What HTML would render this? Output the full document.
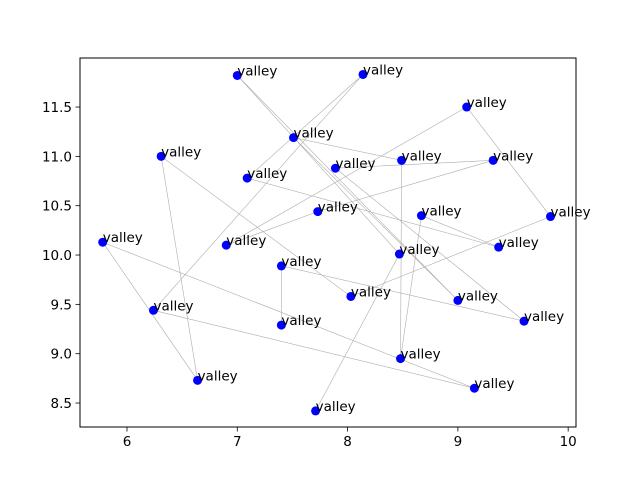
<!DOCTYPE html>
<html><head><meta charset="utf-8"><style>
html,body{margin:0;padding:0;background:#fff;}
svg text{font-family:"DejaVu Sans","Liberation Sans",sans-serif;}
</style></head><body>
<svg id="chart" width="640" height="480" viewBox="0 0 640 480" xmlns="http://www.w3.org/2000/svg">
<rect x="0" y="0" width="640" height="480" fill="#fff"/>
<g id="lines"></g>
<g id="points"></g>
<g id="labels"></g>
<rect x="80" y="58" width="496" height="369" fill="none" stroke="#000" stroke-width="1"/>
<g id="xaxis"></g>
<g id="yaxis"></g>
</svg>
<script>
const xValues = [7.40,7.40,9.60,7.89,9.32,7.73,6.90,9.08,9.84,8.03,6.31,6.64,5.78,9.15,6.24,8.14,7.09,9.37,8.67,8.48,8.49,7.51,9.00,7.00,8.47,7.71];
const yValues = [9.29,9.89,9.33,10.88,10.96,10.44,10.10,11.50,10.39,9.58,11.00,8.73,10.13,8.65,9.44,11.83,10.78,10.08,10.40,8.95,10.96,11.19,9.54,11.82,10.01,8.42];
const pointLabels = Array(26).fill("valley");
const xTicks = [6,7,8,9,10];
const yTicks = [8.5,9.0,9.5,10.0,10.5,11.0,11.5];
const yTickLabels = ["8.5","9.0","9.5","10.0","10.5","11.0","11.5"];

const NS="http://www.w3.org/2000/svg";
const X0=80,X1=576,Y0=58,Y1=427;
const xMin=5.574,xMax=10.071,yMin=8.257,yMax=11.997;
function sx(v){return X0+(v-xMin)/(xMax-xMin)*(X1-X0);}
function sy(v){return Y1-(v-yMin)/(yMax-yMin)*(Y1-Y0);}
function mk(tag,attrs){const e=document.createElementNS(NS,tag);for(const k in attrs)e.setAttribute(k,attrs[k]);return e;}

const gl=document.getElementById('lines');
const pl=mk('polyline',{points:xValues.map((v,i)=>sx(v)+','+sy(yValues[i])).join(' '),fill:'none',stroke:'#999',"stroke-width":0.6,"stroke-opacity":0.8});


gl.appendChild(pl);

const gp=document.getElementById('points'),gt=document.getElementById('labels');
xValues.forEach((v,i)=>{
  const c=mk('circle',{cx:sx(v),cy:sy(yValues[i]),r:4.5,fill:'#0000ff'});
  
  
  gp.appendChild(c);
  const t=mk('text',{x:sx(v),y:sy(yValues[i]),"font-size":13.5,fill:'#000'});
  t.textContent=pointLabels[i];
  
  
  gt.appendChild(t);
});

const gx=document.getElementById('xaxis');
xTicks.forEach(v=>{
  const l=mk('line',{x1:sx(v),x2:sx(v),y1:Y1,y2:Y1+4.5,stroke:'#000',"stroke-width":0.8});
  
  
  gx.appendChild(l);
  const t=mk('text',{x:sx(v),y:Y1+19,"font-size":13.5,"text-anchor":"middle"});
  t.textContent=String(v);
  
  
  gx.appendChild(t);
});
const gy=document.getElementById('yaxis');
yTicks.forEach((v,i)=>{
  const l=mk('line',{x1:X0-4.5,x2:X0,y1:sy(v),y2:sy(v),stroke:'#000',"stroke-width":0.8});
  
  
  gy.appendChild(l);
  const t=mk('text',{x:X0-8,y:sy(v)+5,"font-size":13.5,"text-anchor":"end"});
  t.textContent=yTickLabels[i];
  
  
  gy.appendChild(t);
});
</script>
</body></html>
